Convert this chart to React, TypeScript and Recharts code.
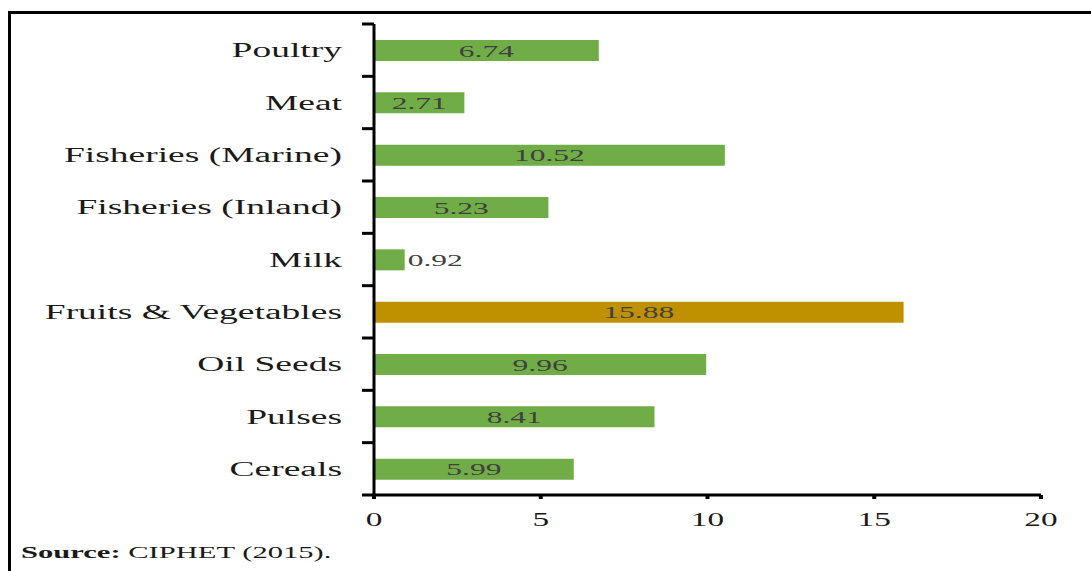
import React from 'react';
import { BarChart, Bar, XAxis, YAxis, Cell, LabelList } from 'recharts';

const categories = [
  'Poultry',
  'Meat',
  'Fisheries (Marine)',
  'Fisheries (Inland)',
  'Milk',
  'Fruits & Vegetables',
  'Oil Seeds',
  'Pulses',
  'Cereals',
];
const losses = [6.74, 2.71, 10.52, 5.23, 0.92, 15.88, 9.96, 8.41, 5.99];
const xTicks = [0, 5, 10, 15, 20];
const highlight = 'Fruits & Vegetables';

const FONT = '"Liberation Serif", "Times New Roman", serif';
const STRETCH = 1.8;
const GREEN = '#70AD47';
const GOLD = '#BF9000';

const chartData = categories.map((name, i) => ({ name, value: losses[i] }));

const PLOT_LEFT = 374;
const PLOT_TOP = 24;
const PLOT_BOTTOM = 495;
const band = (PLOT_BOTTOM - PLOT_TOP) / categories.length;

function CategoryTick(props: any) {
  const { y, payload, index } = props;
  const top = y - band / 2;
  return (
    <g>
      <line x1={PLOT_LEFT - 12} x2={PLOT_LEFT} y1={top} y2={top} stroke="#000" strokeWidth={3} />
      {index === categories.length - 1 && (
        <line x1={PLOT_LEFT - 12} x2={PLOT_LEFT} y1={top + band} y2={top + band} stroke="#000" strokeWidth={3} />
      )}
      <text
        transform={`translate(342, ${y + 7}) scale(1.83, 1)`}
        textAnchor="end"
        fontFamily={FONT}
        fontSize={20.5}
        fill="#1a1a1a"
      >
        {payload.value}
      </text>
    </g>
  );
}

function ValueTick(props: any) {
  const { x, y, payload } = props;
  return (
    <text
      transform={`translate(${x}, ${y + 25}) scale(1.85, 1)`}
      textAnchor="middle"
      fontFamily={FONT}
      fontSize={18}
      fill="#1a1a1a"
    >
      {payload.value}
    </text>
  );
}

function BarValue(props: any) {
  const { x, y, width, height, value } = props;
  const outside = width < 60;
  const tx = outside ? x + width + 3 : x + width / 2;
  return (
    <text
      transform={`translate(${tx}, ${y + height / 2 + 6}) scale(${STRETCH}, 1)`}
      textAnchor={outside ? 'start' : 'middle'}
      fontFamily={FONT}
      fontSize={17.5}
      fill="#404040"
    >
      {Number(value).toFixed(2)}
    </text>
  );
}

export default function App() {
  return (
    <div style={{ position: 'absolute', left: 0, top: 0, width: 1091, height: 571, background: '#fff' }}>
      <div
        style={{
          position: 'absolute',
          left: 8,
          top: 11,
          width: 1083,
          height: 560,
          borderLeft: '3px solid #000',
          borderTop: '3px solid #000',
        }}
      />
      <div style={{ position: 'absolute', left: 0, top: 0 }}>
        <BarChart
          width={1091}
          height={571}
          data={chartData}
          layout="vertical"
          margin={{ top: PLOT_TOP, right: 50, bottom: 46, left: 0 }}
          barSize={21}
        >
          <XAxis
            type="number"
            domain={[0, 20]}
            ticks={xTicks}
            height={30}
            axisLine={{ stroke: '#000', strokeWidth: 3 }}
            tickLine={{ stroke: '#000', strokeWidth: 4 }}
            tickSize={4}
            tick={<ValueTick />}
          />
          <YAxis
            type="category"
            dataKey="name"
            width={PLOT_LEFT}
            axisLine={{ stroke: '#000', strokeWidth: 3 }}
            tickLine={false}
            tick={<CategoryTick />}
            interval={0}
          />
          <Bar dataKey="value" isAnimationActive={false}>
            {chartData.map((d) => (
              <Cell key={d.name} fill={d.name === highlight ? GOLD : GREEN} />
            ))}
            <LabelList dataKey="value" content={<BarValue />} />
          </Bar>
        </BarChart>
      </div>
      <svg style={{ position: 'absolute', left: 0, top: 0 }} width={1091} height={571} pointerEvents="none">
        <text
          transform="translate(21, 558) scale(1.82, 1)"
          fontFamily={FONT}
          fontSize={16.8}
          fill="#1a1a1a"
        >
          <tspan fontWeight="bold">Source:</tspan>
          <tspan> CIPHET (2015).</tspan>
        </text>
      </svg>
    </div>
  );
}
